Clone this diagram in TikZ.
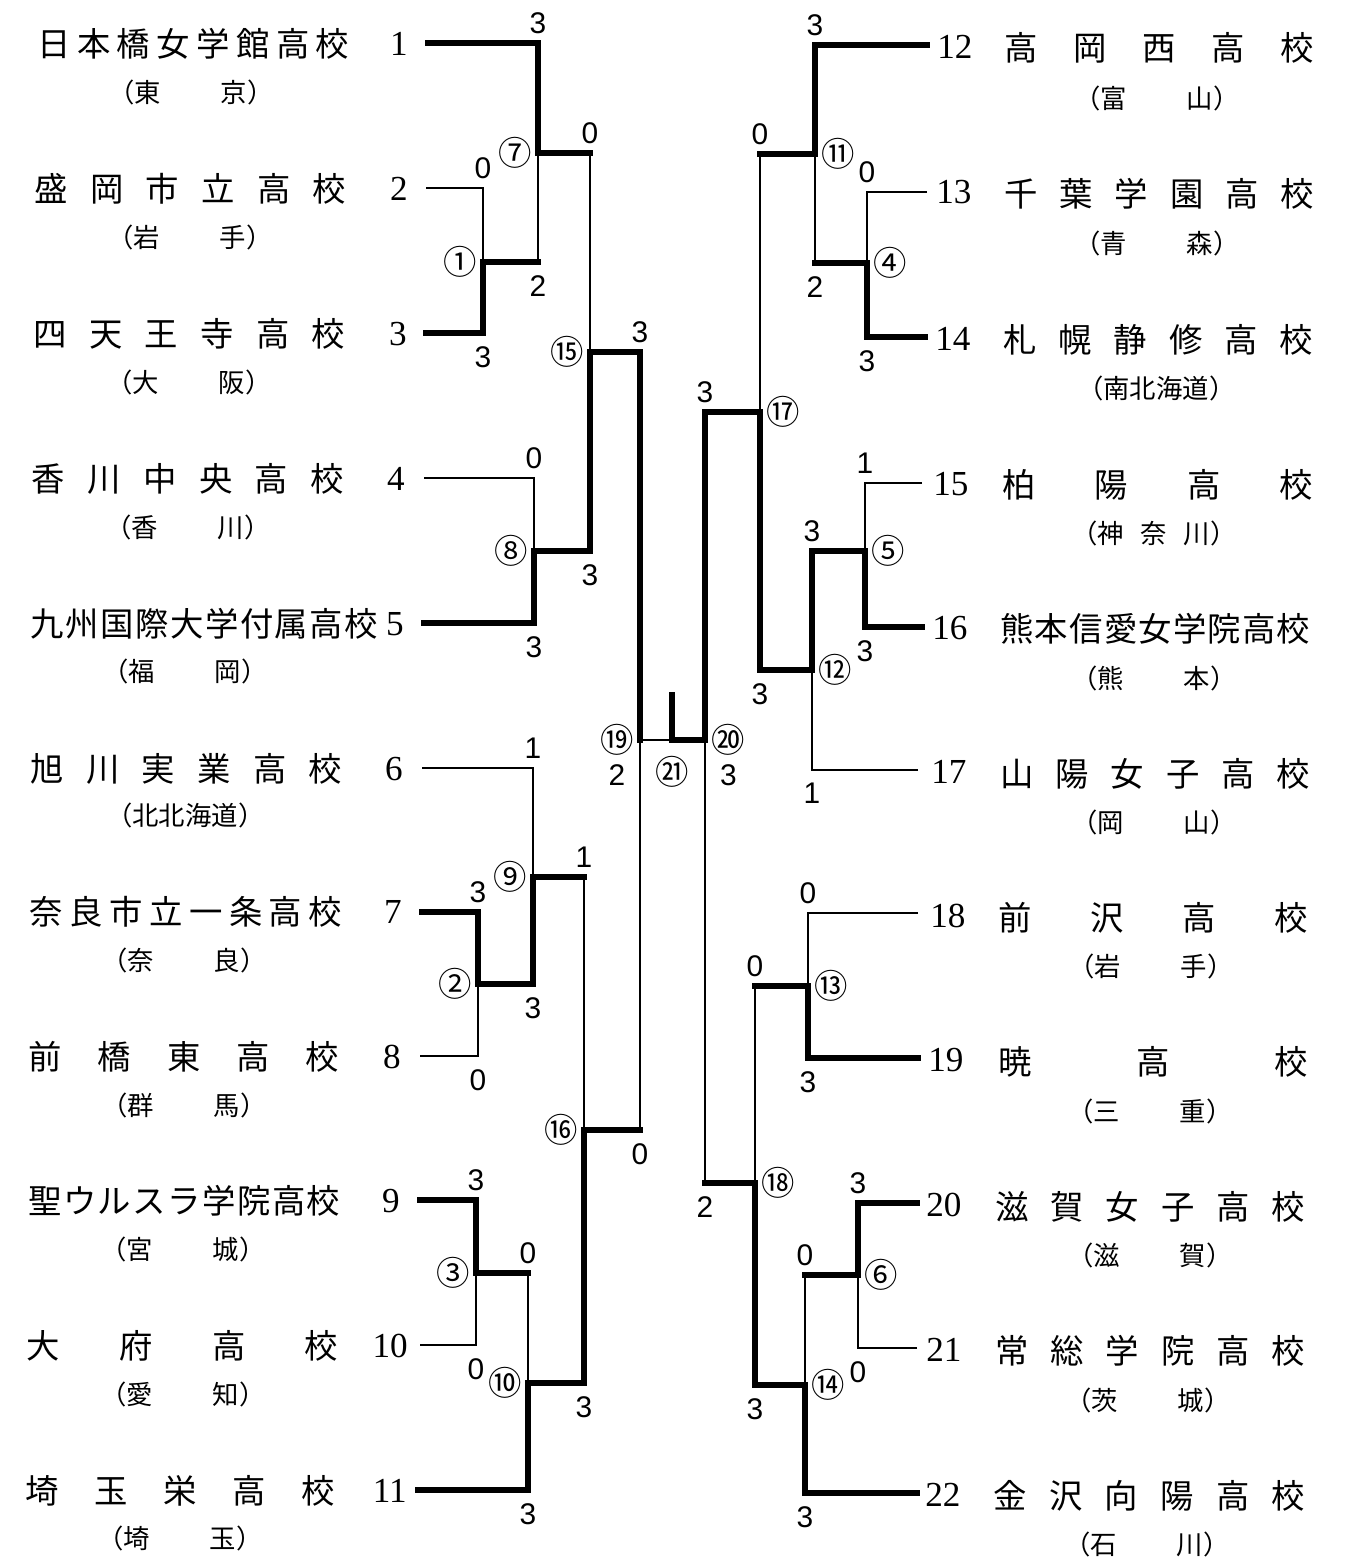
\documentclass[tikz,border=0pt]{standalone}
\usepackage{fontspec}
\setmainfont{Liberation Serif}
\newfontfamily\jp{Noto Sans CJK JP}
\newfontfamily\scorefont{Liberation Sans}
\usetikzlibrary{positioning}
% spread the characters of a name over a fixed width
\makeatletter
\def\spreadit#1{\expandafter\spread@a#1\@nil}
\def\spread@a#1#2\@nil{#1\ifx\relax#2\relax\else\hfill\spread@a#2\@nil\fi}
\makeatother
\begin{document}
\begin{tikzpicture}[x=0.02cm,y=-0.02cm,
    win/.style={line width=3.3pt,line cap=rect},
    lose/.style={line width=0.8pt},
    score/.style={font=\scorefont\fontsize{17}{17}\selectfont,inner sep=0pt},
    circ/.style={font=\jp\fontsize{19}{19}\selectfont,inner sep=0pt},
    school/.style={font=\jp\fontsize{19}{19}\selectfont,inner sep=0pt},
    pref/.style={font=\jp\fontsize{15}{15}\selectfont,inner sep=0pt},
    num/.style={font=\fontsize{20}{20}\selectfont,inner sep=0pt}]
\useasboundingbox (0,0) rectangle (1354,1562);

% Team line ends
\foreach \n/\x/\y in {t1/428/43, t2/426/188, t3/426/333, t4/424/478, t5/424/623,
    t6/422/768, t7/422/912, t8/420/1056, t9/420/1200, t10/420/1345, t11/418/1490,
    t12/927/45, t13/927/192, t14/925/337, t15/922/483, t16/922/627, t17/918/770,
    t18/918/913, t19/918/1058, t20/917/1203, t21/917/1348, t22/917/1493}
  \coordinate (\n) at (\x,\y);
% Match points
\foreach \n/\x/\y in {m1/483/262, m2/478/984, m3/476/1273, m4/867/263, m5/865/551,
    m6/858/1275, m7/538/153, m8/534/551, m9/533/877, m10/528/1383, m11/815/154,
    m12/812/670, m13/808/986, m14/805/1385, m15/590/352, m16/584/1130,
    m17/760/412, m18/755/1183, m19/640/740, m20/705/740, m21/672/740, champ/672/695}
  \coordinate (\n) at (\x,\y);

% Left half
\draw[lose] (t2) -| (m1);
\draw[win] (t3) -| (m1);
\draw[win] (t1) -| (m7);
\draw[win] (m1) -- (m1 -| m7);
\draw[lose] (m1 -| m7) -- (m7);
\draw[lose] (t4) -| (m8);
\draw[win] (t5) -| (m8);
\draw[win] (m7) -- (m7 -| m15);
\draw[lose] (m7 -| m15) -- (m15);
\draw[win] (m8) -| (m15);
\draw[win] (t7) -| (m2);
\draw[lose] (t8) -| (m2);
\draw[lose] (t6) -| (m9);
\draw[win] (m2) -| (m9);
\draw[win] (t9) -| (m3);
\draw[lose] (t10) -| (m3);
\draw[win] (m3) -- (m3 -| m10);
\draw[lose] (m3 -| m10) -- (m10);
\draw[win] (t11) -| (m10);
\draw[win] (m9) -- (m9 -| m16);
\draw[lose] (m9 -| m16) -- (m16);
\draw[win] (m10) -| (m16);
\draw[win] (m15) -| (m19);
\draw[win] (m16) -- (m16 -| m19);
\draw[lose] (m16 -| m19) -- (m19);

% Right half
\draw[lose] (t13) -| (m4);
\draw[win] (t14) -| (m4);
\draw[win] (t12) -| (m11);
\draw[win] (m4) -- (m4 -| m11);
\draw[lose] (m4 -| m11) -- (m11);
\draw[lose] (t15) -| (m5);
\draw[win] (t16) -| (m5);
\draw[win] (m5) -| (m12);
\draw[lose] (t17) -| (m12);
\draw[win] (m11) -- (m11 -| m17);
\draw[lose] (m11 -| m17) -- (m17);
\draw[win] (m12) -| (m17);
\draw[lose] (t18) -| (m13);
\draw[win] (t19) -| (m13);
\draw[win] (t20) -| (m6);
\draw[lose] (t21) -| (m6);
\draw[win] (m6) -- (m6 -| m14);
\draw[lose] (m6 -| m14) -- (m14);
\draw[win] (t22) -| (m14);
\draw[win] (m13) -- (m13 -| m18);
\draw[lose] (m13 -| m18) -- (m18);
\draw[win] (m14) -| (m18);
\draw[win] (m17) -| (m20);
\draw[win] (m18) -- (m18 -| m20);
\draw[lose] (m18 -| m20) -- (m20);

% Final
\draw[lose] (m19) -- (m21);
\draw[win] (m20) -- (m21) -- (champ);

% Scores
\foreach \a/\b/\s [count=\i] in {m1/t2/0, m7/t1/3, m8/t4/0, m15/m7/0, m2/t7/3,
    m9/t6/1, m3/t9/3, m10/m3/0, m16/m9/1, m19/m15/3, m4/t13/0, m11/t12/3,
    m5/t15/1, m12/m5/3, m17/m11/0, m13/t18/0, m6/t20/3, m14/m6/0, m18/m13/0, m20/m17/3}
  \node[score,above=0.18cm] (sa\i) at (\a|-\b) {\s};
\foreach \a/\b/\s [count=\i] in {m1/t3/3, m7/m1/2, m8/t5/3, m15/m8/3, m2/t8/0,
    m9/m2/3, m3/t10/0, m10/t11/3, m16/m10/3, m19/m16/0, m4/t14/3, m11/m4/2,
    m5/t16/3, m12/t17/1, m17/m12/3, m13/t19/3, m6/t21/0, m14/t22/3, m18/m14/3, m20/m18/2}
  \node[score,below=0.26cm] (sb\i) at (\a|-\b) {\s};

% Match numbers
\foreach \m/\txt in {m1/①, m2/②, m3/③, m7/⑦, m8/⑧, m9/⑨, m10/⑩, m15/⑮, m16/⑯, m19/⑲}
  \node[circ,left=0.12cm of \m] (c\m) {\txt};
\foreach \m/\txt in {m4/④, m5/⑤, m6/⑥, m11/⑪, m12/⑫, m13/⑬, m14/⑭, m17/⑰, m18/⑱, m20/⑳}
  \node[circ,right=0.13cm of \m] (c\m) {\txt};
\node[circ,below=0.32cm of m21] (cm21) {㉑};
\node[score,below=0.16cm of cm19] (f19) {2};
\node[score,below=0.16cm of cm20] (f20) {3};

% Left schools
\foreach \i/\x/\y/\w/\txt in {1/37/44/6.24/日本橋女学館高校, 2/34/189/6.24/盛岡市立高校,
    3/33/334/6.24/四天王寺高校, 4/31/479/6.26/香川中央高校,
    5/30/624/6.96/九州国際大学付属高校, 6/30/769/6.24/旭川実業高校,
    7/29/912/6.26/奈良市立一条高校, 8/28/1057/6.22/前橋東高校,
    9/28/1201/6.24/聖ウルスラ学院高校, 10/26/1346/6.24/大府高校, 11/25/1491/6.2/埼玉栄高校}
  \node[school,anchor=west] (n\i) at (\x,\y) {\makebox[\w cm][s]{\spreadit{\txt}}};
\foreach \i/\x/\y/\w/\txt in {1/191/92/3.3/東京, 2/190/237/3.3/岩手, 3/189/382/3.3/大阪,
    4/188/527/3.3/香川, 5/185/671/3.3/福岡, 6/185/815/3.15/北北海道, 7/184/960/3.3/奈良,
    8/184/1105/3.3/群馬, 9/183/1249/3.3/宮城, 10/183/1394/3.3/愛知, 11/180/1538/3.3/埼玉}
  \node[pref] (p\i) at (\x,\y) {\makebox[\w cm][s]{（\spreadit{\txt}）}};
\foreach \i/\x/\y in {1/408/44, 2/408/189, 3/407/334, 4/405/479, 5/404/624, 6/403/769,
    7/402/912, 8/401/1057, 9/400/1201, 10/408/1346, 11/407/1491}
  \node[num,anchor=east] (k\i) at (\x,\y) {\i};

% Right schools
\foreach \i/\x/\y/\w/\txt in {12/1004/48/6.2/高岡西高校, 13/1004/194/6.2/千葉学園高校,
    14/1003/340/6.2/札幌静修高校, 15/1002/485/6.22/柏陽高校,
    16/1000/629/6.2/熊本信愛女学院高校, 17/1000/774/6.2/山陽女子高校,
    18/998/918/6.2/前沢高校, 19/998/1062/6.2/暁高校, 20/995/1207/6.2/滋賀女子高校,
    21/995/1351/6.2/常総学院高校, 22/993/1496/6.24/金沢向陽高校}
  \node[school,anchor=west] (n\i) at (\x,\y) {\makebox[\w cm][s]{\spreadit{\txt}}};
\foreach \i/\x/\y/\w/\txt in {12/1157/98/3.3/富山, 13/1157/243/3.3/青森, 14/1156/388/3.15/南北海道,
    15/1154/533/3.3/神奈川, 16/1154/678/3.3/熊本, 17/1154/822/3.3/岡山, 18/1151/966/3.3/岩手,
    19/1150/1111/3.3/三重, 20/1150/1255/3.3/滋賀, 21/1148/1400/3.3/茨城, 22/1147/1544/3.3/石川}
  \node[pref] (p\i) at (\x,\y) {\makebox[\w cm][s]{（\spreadit{\txt}）}};
\foreach \i/\x/\y in {12/937/47, 13/936/192, 14/935/339, 15/933/484, 16/932/628,
    17/931/772, 18/930/916, 19/928/1060, 20/926/1205, 21/926/1350, 22/925/1495}
  \node[num,anchor=west] (k\i) at (\x,\y) {\i};
\end{tikzpicture}
\end{document}
